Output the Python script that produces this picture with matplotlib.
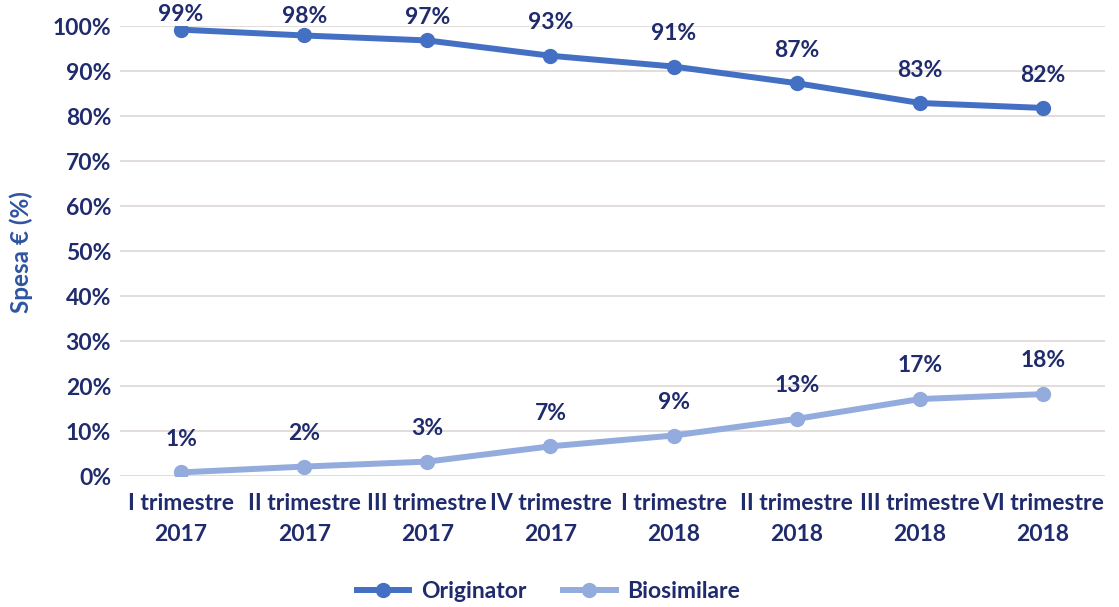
import numpy as np
import matplotlib
matplotlib.use('Agg')
import matplotlib.pyplot as plt

# Data
trimestri = ['I trimestre\n2017', 'II trimestre\n2017', 'III trimestre\n2017', 'IV trimestre\n2017',
             'I trimestre\n2018', 'II trimestre\n2018', 'III trimestre\n2018', 'VI trimestre\n2018']
originator = [99.2, 97.9, 96.8, 93.4, 91.0, 87.3, 82.9, 81.8]
biosimilare = [0.8, 2.1, 3.2, 6.6, 9.0, 12.7, 17.1, 18.2]
yticks = list(range(0, 101, 10))

col_orig = '#4470C4'
col_bio = '#93ACDD'
col_text = '#1F2B6C'
col_grid = '#DDD5D3'

plt.rcParams['font.family'] = ['Lato', 'DejaVu Sans']
plt.rcParams['font.weight'] = 'bold'

fig = plt.figure(figsize=(11.19, 6.07), dpi=100)
ax = fig.add_axes([0.1068, 0.2158, 0.8803, 0.7413])

x = np.arange(len(trimestri))
ax.plot(x, originator, '-o', color=col_orig, lw=4.3, ms=10, label='Originator', zorder=3)
ax.plot(x, biosimilare, '-o', color=col_bio, lw=4.3, ms=10, label='Biosimilare', zorder=3)

# data labels above the points (squeezed near the top like the original)
for xi, v in zip(x, originator):
    ly = min(v + 7.3, 102.5 - (99 - v) * 0.3)
    ax.text(xi, ly, f'{round(v)}%', ha='center', va='center', fontsize=16.5,
            color=col_text, fontweight='bold', clip_on=False)
for xi, v in zip(x, biosimilare):
    ax.text(xi, v + 7.4, f'{round(v)}%', ha='center', va='center', fontsize=16.5,
            color=col_text, fontweight='bold', clip_on=False)

ax.set_xlim(-0.5, len(trimestri) - 0.5)
ax.set_ylim(0, 100)
ax.set_yticks(yticks)
ax.set_yticklabels([f'{t}%' for t in yticks])
ax.set_xticks(x)
ax.set_xticklabels(trimestri, linespacing=1.6)
ax.tick_params(axis='both', length=0, labelsize=16.5, colors=col_text)
ax.tick_params(axis='y', pad=6)
ax.tick_params(axis='x', pad=12)
ax.yaxis.grid(True, color=col_grid, lw=1.2)
ax.set_axisbelow(True)
for s in ax.spines.values():
    s.set_visible(False)

fig.text(0.019, 0.585, 'Spesa € (%)', rotation=90, ha='center', va='center',
         fontsize=17.5, color='#2F55A0', fontweight='bold')

fig.legend(loc='center', bbox_to_anchor=(0.49, 0.026), ncol=2, frameon=False,
           fontsize=16.5, labelcolor=col_text, handlelength=2.3, columnspacing=1.6,
           handletextpad=0.5)

plt.savefig('out.png', dpi=100)
